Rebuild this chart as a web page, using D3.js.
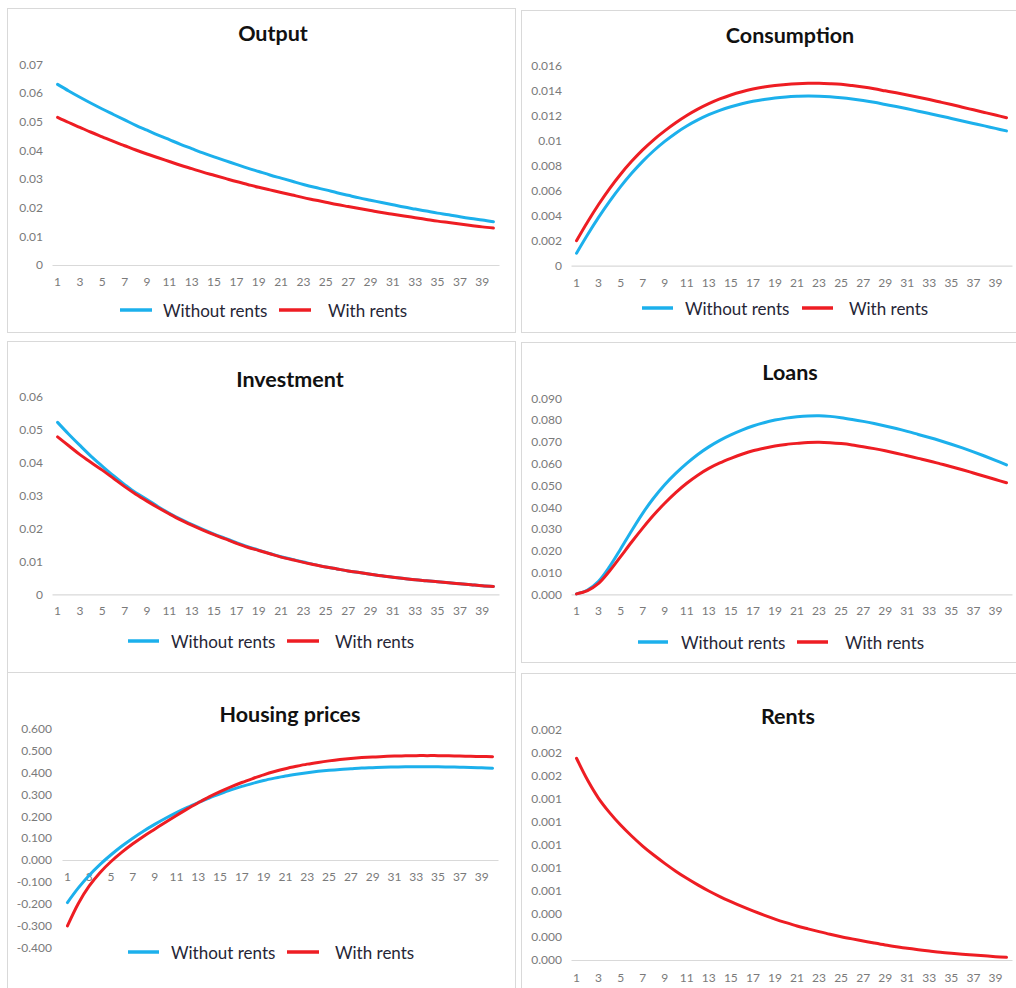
<!DOCTYPE html>
<html>
<head>
<meta charset="utf-8">
<script src="https://cdn.jsdelivr.net/npm/d3@7/dist/d3.min.js"></script>
<style>
  html, body { margin: 0; padding: 0; background: #fff; }
  svg { display: block; }
  .tick text { fill: #7a7a7a; font-family: Lato, "Open Sans", sans-serif; font-size: 12px; }
  .title { font-family: Lato, "Open Sans", sans-serif; font-weight: 700; font-size: 21.5px; fill: #111; }
  .legend text { font-family: Lato, "Open Sans", sans-serif; font-size: 17px; fill: #262636; }
</style>
</head>
<body>
<svg id="chart" width="1016" height="988"></svg>
<script>
// Periods after the shock
const periods = d3.range(1, 41);
const oddPeriods = periods.filter(t => t % 2 === 1);

// Impulse responses: "Without rents" and "With rents"
const outputWithout = [0.0630,0.0607,0.0585,0.0564,0.0544,0.0525,0.0506,0.0487,0.0470,0.0453,
  0.0437,0.0421,0.0406,0.0391,0.0377,0.0364,0.0351,0.0338,0.0326,0.0314,
  0.0303,0.0292,0.0281,0.0271,0.0262,0.0252,0.0243,0.0234,0.0226,0.0218,
  0.0210,0.0202,0.0195,0.0188,0.0181,0.0175,0.0168,0.0162,0.0157,0.0151];
const outputWith = [0.0515,0.0497,0.0480,0.0463,0.0447,0.0431,0.0416,0.0401,0.0387,0.0374,
  0.0361,0.0348,0.0336,0.0324,0.0313,0.0302,0.0291,0.0281,0.0271,0.0262,
  0.0253,0.0244,0.0235,0.0227,0.0219,0.0211,0.0204,0.0197,0.0190,0.0183,
  0.0177,0.0171,0.0165,0.0159,0.0153,0.0148,0.0143,0.0138,0.0133,0.0129];

const consumptionWithout = [0.00100,0.00248,0.00387,0.00515,0.00633,0.00740,0.00836,0.00921,0.00996,0.01062,
  0.01119,0.01168,0.01210,0.01245,0.01274,0.01298,0.01317,0.01332,0.01344,0.01352,
  0.01357,0.01360,0.01358,0.01353,0.01345,0.01335,0.01323,0.01309,0.01292,0.01275,
  0.01257,0.01238,0.01219,0.01200,0.01180,0.01160,0.01140,0.01120,0.01100,0.01080];
const consumptionWith = [0.00200,0.00350,0.00490,0.00618,0.00733,0.00836,0.00928,0.01009,0.01080,0.01145,
  0.01203,0.01254,0.01298,0.01336,0.01368,0.01394,0.01415,0.01431,0.01443,0.01452,
  0.01458,0.01461,0.01461,0.01458,0.01453,0.01443,0.01431,0.01417,0.01401,0.01385,
  0.01368,0.01350,0.01331,0.01311,0.01291,0.01270,0.01249,0.01228,0.01207,0.01186];

const investmentWithout = [0.0522,0.0486,0.0452,0.0419,0.0389,0.0360,0.0333,0.0308,0.0288,0.0266,
  0.0246,0.0228,0.0212,0.0197,0.0183,0.0170,0.0157,0.0145,0.0134,0.0124,
  0.0114,0.0106,0.0098,0.0090,0.0083,0.0077,0.0071,0.0066,0.0061,0.0056,
  0.0052,0.0048,0.0044,0.0041,0.0038,0.0035,0.0032,0.0029,0.0026,0.0024];
const investmentWith = [0.0478,0.0451,0.0424,0.0400,0.0377,0.0352,0.0327,0.0304,0.0283,0.0263,
  0.0244,0.0226,0.0210,0.0195,0.0181,0.0168,0.0155,0.0143,0.0133,0.0123,
  0.0113,0.0105,0.0097,0.0090,0.0083,0.0077,0.0071,0.0066,0.0061,0.0056,
  0.0052,0.0048,0.0044,0.0041,0.0038,0.0035,0.0032,0.0029,0.0026,0.0024];

const loansWithout = [0.0002,0.0020,0.0060,0.0127,0.0208,0.0292,0.0372,0.0442,0.0503,0.0555,
  0.0601,0.0642,0.0677,0.0707,0.0732,0.0754,0.0773,0.0788,0.0800,0.0809,
  0.0815,0.0819,0.0820,0.0817,0.0811,0.0803,0.0794,0.0784,0.0773,0.0761,
  0.0748,0.0734,0.0720,0.0705,0.0689,0.0672,0.0654,0.0635,0.0615,0.0594];
const loansWith = [0.0002,0.0017,0.0050,0.0107,0.0173,0.0240,0.0304,0.0364,0.0418,0.0467,
  0.0510,0.0547,0.0578,0.0603,0.0624,0.0643,0.0659,0.0671,0.0681,0.0688,
  0.0693,0.0697,0.0698,0.0696,0.0692,0.0686,0.0678,0.0669,0.0659,0.0648,
  0.0636,0.0624,0.0612,0.0599,0.0586,0.0572,0.0557,0.0542,0.0527,0.0512];

const housingWithout = [-0.195,-0.128,-0.070,-0.020,0.024,0.064,0.100,0.133,0.163,0.191,
  0.217,0.241,0.263,0.284,0.303,0.321,0.337,0.351,0.364,0.375,
  0.385,0.393,0.400,0.406,0.411,0.415,0.418,0.421,0.423,0.425,
  0.426,0.427,0.427,0.427,0.427,0.426,0.425,0.424,0.422,0.420];
const housingWith = [-0.302,-0.199,-0.119,-0.057,-0.007,0.036,0.074,0.109,0.141,0.173,
  0.204,0.234,0.262,0.289,0.313,0.335,0.355,0.373,0.390,0.405,
  0.418,0.429,0.439,0.447,0.454,0.460,0.465,0.469,0.472,0.474,
  0.476,0.477,0.478,0.478,0.478,0.477,0.476,0.475,0.474,0.473];

const rentsWith = [0.001749,0.001560,0.001402,0.001278,0.001170,0.001075,0.000988,0.000910,0.000838,0.000770,
  0.000708,0.000651,0.000598,0.000550,0.000506,0.000464,0.000425,0.000389,0.000355,0.000324,
  0.000295,0.000270,0.000246,0.000223,0.000202,0.000183,0.000165,0.000147,0.000130,0.000115,
  0.000101,0.000089,0.000078,0.000067,0.000058,0.000050,0.000043,0.000036,0.000029,0.000023];

// Y tick values and their printed labels
const outputTicks = [0, 0.01, 0.02, 0.03, 0.04, 0.05, 0.06, 0.07];
const outputTickLabels = ["0","0.01","0.02","0.03","0.04","0.05","0.06","0.07"];
const consumptionTicks = [0, 0.002, 0.004, 0.006, 0.008, 0.010, 0.012, 0.014, 0.016];
const consumptionTickLabels = ["0","0.002","0.004","0.006","0.008","0.01","0.012","0.014","0.016"];
const investmentTicks = [0, 0.01, 0.02, 0.03, 0.04, 0.05, 0.06];
const investmentTickLabels = ["0","0.01","0.02","0.03","0.04","0.05","0.06"];
const loansTicks = [0, 0.01, 0.02, 0.03, 0.04, 0.05, 0.06, 0.07, 0.08, 0.09];
const loansTickLabels = ["0.000","0.010","0.020","0.030","0.040","0.050","0.060","0.070","0.080","0.090"];
const housingTicks = [-0.4, -0.3, -0.2, -0.1, 0, 0.1, 0.2, 0.3, 0.4, 0.5, 0.6];
const housingTickLabels = ["-0.400","-0.300","-0.200","-0.100","0.000","0.100","0.200","0.300","0.400","0.500","0.600"];
const rentsTicks = [0, 0.0002, 0.0004, 0.0006, 0.0008, 0.0010, 0.0012, 0.0014, 0.0016, 0.0018, 0.0020];
const rentsTickLabels = ["0.000","0.000","0.000","0.001","0.001","0.001","0.001","0.001","0.002","0.002","0.002"];

const seriesNames = ["Without rents", "With rents"];
const seriesColors = ["#1cb0ec", "#ee1d23"];

// Panel layout (pixels)
const panels = [
  { title: "Output", series: [outputWithout, outputWith], ticks: outputTicks, labels: outputTickLabels,
    box: [7.5, 8.5, 508, 324], plotX: [52, 499], yPix: [265, 64.3], titlePos: [273, 33], labelRight: 43,
    xLabelY: 282, legend: { y: 310, blue: [120, 152, 163], red: [279, 311, 328] } },
  { title: "Consumption", series: [consumptionWithout, consumptionWith], ticks: consumptionTicks, labels: consumptionTickLabels,
    box: [521.5, 10.5, 520, 322], plotX: [571, 1012], yPix: [265.7, 66], titlePos: [790, 35], labelRight: 562,
    xLabelY: 282.5, legend: { y: 308, blue: [642, 673, 685], red: [802, 833, 849] } },
  { title: "Investment", series: [investmentWithout, investmentWith], ticks: investmentTicks, labels: investmentTickLabels,
    box: [7.5, 341.5, 508, 360], plotX: [52, 499], yPix: [594.3, 396.7], titlePos: [290, 379], labelRight: 43,
    xLabelY: 611, legend: { y: 641, blue: [128, 159, 171], red: [287, 319, 335] } },
  { title: "Loans", series: [loansWithout, loansWith], ticks: loansTicks, labels: loansTickLabels,
    box: [521.5, 342.5, 520, 320], plotX: [571, 1012], yPix: [594.3, 398.3], titlePos: [790, 372], labelRight: 562,
    xLabelY: 611, legend: { y: 642, blue: [638, 668, 681], red: [797, 828, 845] } },
  { title: "Housing prices", series: [housingWithout, housingWith], ticks: housingTicks, labels: housingTickLabels,
    box: [7.5, 672.5, 508, 340], plotX: [62, 498], yPix: [947.3, 729], titlePos: [290, 714], labelRight: 52,
    xLabelY: 877, legend: { y: 952, blue: [128, 159, 171], red: [287, 319, 335] } },
  { title: "Rents", series: [null, rentsWith], ticks: rentsTicks, labels: rentsTickLabels,
    box: [521.5, 673.5, 520, 340], plotX: [571, 1012], yPix: [960, 729.3], titlePos: [788, 716], labelRight: 562,
    xLabelY: 978, legend: null }
];

const svg = d3.select("#chart");

panels.forEach(p => {
  const g = svg.append("g");

  // chart frame
  g.append("rect")
    .attr("x", p.box[0]).attr("y", p.box[1])
    .attr("width", p.box[2]).attr("height", p.box[3])
    .attr("fill", "#fff").attr("stroke", "#d9d9d9").attr("stroke-width", 1);

  const x = d3.scaleBand().domain(periods).range(p.plotX);
  const y = d3.scaleLinear()
    .domain([p.ticks[0], p.ticks[p.ticks.length - 1]])
    .range(p.yPix);

  // y axis labels
  const yAxis = d3.axisLeft(y)
    .tickValues(p.ticks)
    .tickFormat((d, i) => p.labels[i])
    .tickSize(0).tickPadding(0);
  g.append("g")
    .attr("transform", `translate(${p.labelRight},0)`)
    .call(yAxis)
    .call(a => a.select(".domain").remove());

  // category axis sits on the zero line
  const y0 = y(0);
  const xAxis = d3.axisBottom(x)
    .tickValues(oddPeriods)
    .tickSize(0).tickSizeOuter(0)
    .tickPadding(p.xLabelY - y0 - 4.3);
  g.append("g")
    .attr("transform", `translate(0,${y0})`)
    .call(xAxis)
    .call(a => a.select(".domain").attr("stroke", "#d9d9d9").attr("stroke-width", 1.2));

  // series lines
  const line = d3.line()
    .x((d, i) => x(periods[i]) + x.bandwidth() / 2)
    .y(d => y(d))
    .curve(d3.curveCatmullRom.alpha(0.5));
  p.series.forEach((s, k) => {
    if (!s) return;
    g.append("path")
      .datum(s)
      .attr("d", line)
      .attr("fill", "none")
      .attr("stroke", seriesColors[k])
      .attr("stroke-width", 3)
      .attr("stroke-linecap", "round");
  });

  // title
  g.append("text").attr("class", "title")
    .attr("x", p.titlePos[0]).attr("y", p.titlePos[1])
    .attr("text-anchor", "middle").attr("dominant-baseline", "central")
    .text(p.title);

  // legend
  if (p.legend) {
    const lg = g.append("g").attr("class", "legend");
    [p.legend.blue, p.legend.red].forEach((pos, k) => {
      lg.append("line")
        .attr("x1", pos[0]).attr("x2", pos[1])
        .attr("y1", p.legend.y).attr("y2", p.legend.y)
        .attr("stroke", seriesColors[k]).attr("stroke-width", 3.5);
      lg.append("text")
        .attr("x", pos[2]).attr("y", p.legend.y)
        .attr("dominant-baseline", "central")
        .text(seriesNames[k]);
    });
  }
});
</script>
</body>
</html>
